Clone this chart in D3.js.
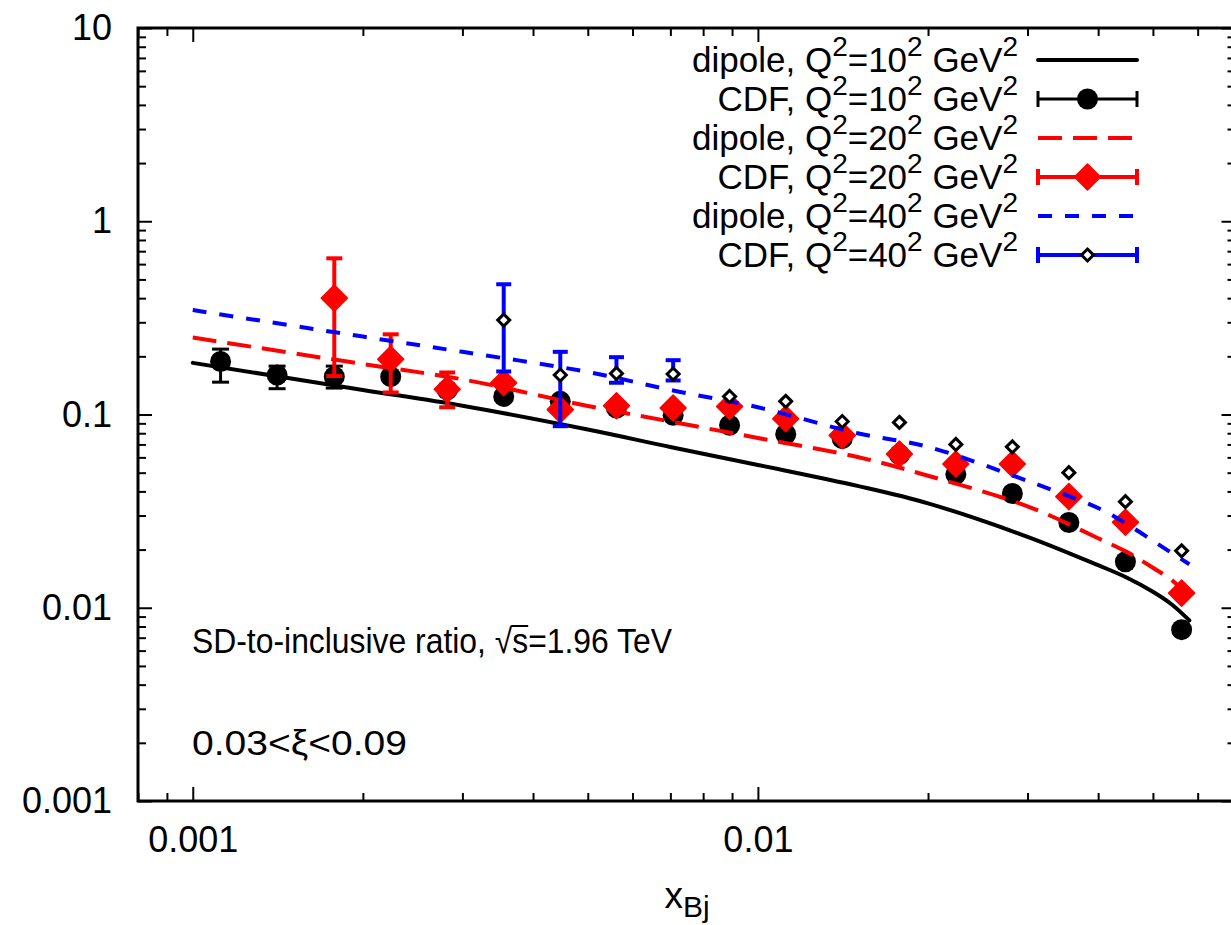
<!DOCTYPE html>
<html>
<head>
<meta charset="utf-8">
<script src="https://cdn.jsdelivr.net/npm/d3@7"></script>
<style>
  body { margin: 0; background: #fff; }
  svg text { font-family: "Liberation Sans", Arial, Helvetica, sans-serif; fill: #000; }
</style>
</head>
<body>
<div class="chart"></div>
<script>
// bin centres (x_Bj) of the CDF points
var xBins = [0.00112, 0.00141, 0.00178, 0.00224, 0.00282, 0.00355, 0.00447, 0.00562, 0.00708,
             0.00891, 0.0112, 0.0141, 0.0178, 0.0224, 0.0282, 0.0355, 0.0447, 0.0562];

var cdf10   = [0.188, 0.160, 0.157, 0.157, 0.134, 0.124, 0.117, 0.108, 0.099,
               0.088, 0.079, 0.075, 0.062, 0.049, 0.039, 0.0276, 0.0173, 0.0077];
var cdf10Lo = [0.147, 0.136, 0.137, null, null, null, null, null, null,
               null, null, null, null, null, null, null, null, null];
var cdf10Hi = [0.218, 0.178, 0.178, null, null, null, null, null, null,
               null, null, null, null, null, null, null, null, null];

var cdf20   = [null, null, 0.40, 0.193, 0.135, 0.146, 0.106, 0.111, 0.108,
               0.110, 0.095, 0.078, 0.0625, 0.0554, 0.0554, 0.0376, 0.0277, 0.0119];
var cdf20Lo = [null, null, 0.158, 0.130, 0.109, null, null, null, null,
               null, null, null, null, null, null, null, null, null];
var cdf20Hi = [null, null, 0.643, 0.260, 0.165, null, null, null, null,
               null, null, null, null, null, null, null, null, null];

var cdf40   = [null, null, null, null, null, 0.308, 0.160, 0.163, 0.162,
               0.124, 0.117, 0.092, 0.091, 0.070, 0.068, 0.050, 0.0354, 0.0197];
var cdf40Lo = [null, null, null, null, null, 0.167, 0.087, 0.146, 0.150,
               null, null, null, null, null, null, null, null, null];
var cdf40Hi = [null, null, null, null, null, 0.472, 0.211, 0.198, 0.191,
               null, null, null, null, null, null, null, null, null];

// dipole model curves
var dipoleX  = [0.001, 0.002, 0.003, 0.005, 0.007, 0.01, 0.015, 0.02, 0.03, 0.04, 0.045, 0.05, 0.054, 0.058];
var dipole10 = [0.185, 0.134, 0.111, 0.0836, 0.0679, 0.0548, 0.0427, 0.0347, 0.0233, 0.0166, 0.0143, 0.0121, 0.0104, 0.0086];
var dipole20 = [0.250, 0.1825, 0.152, 0.1107, 0.092, 0.0756, 0.0603, 0.0482, 0.0335, 0.0229, 0.0194, 0.0161, 0.0139, 0.0114];
var dipole40 = [0.347, 0.253, 0.211, 0.166, 0.134, 0.109, 0.080, 0.068, 0.0453, 0.0328, 0.0271, 0.0222, 0.0192, 0.0168];

var legendLabels = ["dipole, Q^2=10^2 GeV^2", "CDF, Q^2=10^2 GeV^2",
                    "dipole, Q^2=20^2 GeV^2", "CDF, Q^2=20^2 GeV^2",
                    "dipole, Q^2=40^2 GeV^2", "CDF, Q^2=40^2 GeV^2"];
var xTickLabels = ["0.001", "0.01"];
var yTickLabels = ["0.001", "0.01", "0.1", "1", "10"];

var width = 1231, height = 925;
var plotLeft = 138, plotRight = 1235.5, plotTop = 28, plotBottom = 801;
var fontSize = 35, tickFontSize = 36;

var x = d3.scaleLog().domain([0.0008, 0.07]).range([plotLeft, plotRight]);
var y = d3.scaleLog().domain([0.001, 10]).range([plotBottom, plotTop]);

var svg = d3.select("div.chart").append("svg")
  .attr("width", width)
  .attr("height", height);

// ---- axes (ticks inward on all four sides) ----
function isMajor(v) { return Math.abs(Math.log10(v) - Math.round(Math.log10(v))) < 1e-6; }
var xAll = x.ticks(), yAll = y.ticks();
var xMajor = xAll.filter(isMajor), xMinor = xAll.filter(function(v) { return !isMajor(v); });
var yMajor = yAll.filter(isMajor), yMinor = yAll.filter(function(v) { return !isMajor(v); });

function styleAxis(g) {
  g.select(".domain").remove();
  g.selectAll(".tick line").attr("stroke", "#000").attr("stroke-width", 2);
  g.selectAll(".tick text").attr("font-size", tickFontSize).attr("font-family", null);
}

svg.append("g").attr("transform", "translate(0," + plotBottom + ")")
  .call(d3.axisBottom(x).tickValues(xMinor).tickSize(-8).tickFormat(""))
  .call(styleAxis);
svg.append("g").attr("transform", "translate(0," + plotBottom + ")")
  .call(d3.axisBottom(x).tickValues(xMajor).tickSize(-14).tickPadding(25)
    .tickFormat(function(d, i) { return xTickLabels[i]; }))
  .call(styleAxis);
svg.append("g").attr("transform", "translate(0," + plotTop + ")")
  .call(d3.axisTop(x).tickValues(xMinor).tickSize(-8).tickFormat(""))
  .call(styleAxis);
svg.append("g").attr("transform", "translate(0," + plotTop + ")")
  .call(d3.axisTop(x).tickValues(xMajor).tickSize(-14).tickFormat(""))
  .call(styleAxis);

svg.append("g").attr("transform", "translate(" + plotLeft + ",0)")
  .call(d3.axisLeft(y).tickValues(yMinor).tickSize(-8).tickFormat(""))
  .call(styleAxis);
svg.append("g").attr("transform", "translate(" + plotLeft + ",0)")
  .call(d3.axisLeft(y).tickValues(yMajor).tickSize(-14).tickPadding(26)
    .tickFormat(function(d, i) { return yTickLabels[i]; }))
  .call(styleAxis);
svg.append("g").attr("transform", "translate(" + plotRight + ",0)")
  .call(d3.axisRight(y).tickValues(yMinor).tickSize(-8).tickFormat(""))
  .call(styleAxis);
svg.append("g").attr("transform", "translate(" + plotRight + ",0)")
  .call(d3.axisRight(y).tickValues(yMajor).tickSize(-14).tickFormat(""))
  .call(styleAxis);

svg.append("rect")
  .attr("x", plotLeft).attr("y", plotTop)
  .attr("width", plotRight - plotLeft).attr("height", plotBottom - plotTop)
  .attr("fill", "none").attr("stroke", "#000").attr("stroke-width", 3);

// x axis title
var xt = svg.append("text").attr("x", 687).attr("y", 908)
  .attr("text-anchor", "middle").attr("font-size", 37);
xt.append("tspan").text("x");
xt.append("tspan").attr("font-size", 30).attr("dy", 9).text("Bj");

// ---- series ----
var series = [
  {kind: "line", xs: dipoleX, ys: dipole10, color: "#000", dash: null},
  {kind: "points", ys: cdf10, lo: cdf10Lo, hi: cdf10Hi, color: "#000", marker: "circle", barWidth: 3, cap: 8.5},
  {kind: "line", xs: dipoleX, ys: dipole20, color: "#ff0000", dash: "24,11"},
  {kind: "points", ys: cdf20, lo: cdf20Lo, hi: cdf20Hi, color: "#ff0000", marker: "diamond", barWidth: 4, cap: 8},
  {kind: "line", xs: dipoleX, ys: dipole40, color: "#0000ff", dash: "14,13"},
  {kind: "points", ys: cdf40, lo: cdf40Lo, hi: cdf40Hi, color: "#0000ff", marker: "open", barWidth: 4, cap: 7.5}
];

var line = d3.line()
  .x(function(d) { return x(d[0]); })
  .y(function(d) { return y(d[1]); })
  .curve(d3.curveCatmullRom.alpha(0.5));

function drawMarker(g, type, cx, cy) {
  if (type === "circle") {
    g.append("circle").attr("cx", cx).attr("cy", cy).attr("r", 10.5).attr("fill", "#000");
  } else if (type === "diamond") {
    var s = 13;
    g.append("path")
      .attr("d", "M" + cx + "," + (cy - s) + "L" + (cx + s) + "," + cy + "L" + cx + "," + (cy + s) + "L" + (cx - s) + "," + cy + "Z")
      .attr("fill", "#ff0000").attr("stroke", "#ff0000").attr("stroke-width", 1.5).attr("stroke-linejoin", "round");
  } else {
    var t = 6;
    g.append("path")
      .attr("d", "M" + cx + "," + (cy - t) + "L" + (cx + t) + "," + cy + "L" + cx + "," + (cy + t) + "L" + (cx - t) + "," + cy + "Z")
      .attr("fill", "#fff").attr("stroke", "#000").attr("stroke-width", 3);
  }
}

var plot = svg.append("g");
series.forEach(function(s) {
  if (s.kind === "line") {
    var pts = s.xs.map(function(v, i) { return [v, s.ys[i]]; });
    plot.append("path").datum(pts)
      .attr("d", line)
      .attr("fill", "none")
      .attr("stroke", s.color)
      .attr("stroke-width", 4)
      .attr("stroke-linecap", s.dash ? "butt" : "round")
      .attr("stroke-dasharray", s.dash);
  } else {
    var g = plot.append("g");
    xBins.forEach(function(xv, i) {
      if (s.ys[i] == null) return;
      var cx = x(xv);
      if (s.lo[i] != null) {
        g.append("line").attr("x1", cx).attr("x2", cx)
          .attr("y1", y(s.lo[i])).attr("y2", y(s.hi[i]))
          .attr("stroke", s.color).attr("stroke-width", s.barWidth);
        [s.lo[i], s.hi[i]].forEach(function(v) {
          g.append("line").attr("x1", cx - s.cap).attr("x2", cx + s.cap)
            .attr("y1", y(v)).attr("y2", y(v))
            .attr("stroke", s.color).attr("stroke-width", s.barWidth);
        });
      }
      drawMarker(g, s.marker, cx, y(s.ys[i]));
    });
  }
});

// ---- legend ----
function addScripted(textSel, str) {
  var parts = str.split("^");
  textSel.append("tspan").text(parts[0]);
  for (var k = 1; k < parts.length; k++) {
    textSel.append("tspan").attr("font-size", fontSize * 0.8).attr("dy", -16).text(parts[k].charAt(0));
    if (parts[k].length > 1)
      textSel.append("tspan").attr("dy", 16).text(parts[k].slice(1));
  }
}

var legX0 = 1038, legX1 = 1137, legTextX = 1018, legY0 = 60, legStep = 39;
series.forEach(function(s, i) {
  var ly = legY0 + i * legStep;
  var t = svg.append("text").attr("x", legTextX).attr("y", ly + 12)
    .attr("text-anchor", "end").attr("font-size", fontSize);
  addScripted(t, legendLabels[i]);
  var g = svg.append("g");
  if (s.kind === "line") {
    g.append("line").attr("x1", legX0).attr("x2", legX1).attr("y1", ly).attr("y2", ly)
      .attr("stroke", s.color).attr("stroke-width", 4)
      .attr("stroke-linecap", s.dash ? "butt" : "round")
      .attr("stroke-dasharray", s.dash);
  } else {
    g.append("line").attr("x1", legX0).attr("x2", legX1).attr("y1", ly).attr("y2", ly)
      .attr("stroke", s.color).attr("stroke-width", s.barWidth);
    [legX0, legX1].forEach(function(ex) {
      g.append("line").attr("x1", ex).attr("x2", ex).attr("y1", ly - 8).attr("y2", ly + 8)
        .attr("stroke", s.color).attr("stroke-width", s.barWidth);
    });
    drawMarker(g, s.marker, (legX0 + legX1) / 2, ly);
  }
});

// ---- annotations ----
var annot = "SD-to-inclusive ratio, \u221As=1.96 TeV";
var a1 = svg.append("text").attr("x", 192).attr("y", 653).attr("font-size", fontSize)
  .attr("textLength", 480).attr("lengthAdjust", "spacingAndGlyphs")
  .text(annot);
// bar of the square root over "s"
var sIdx = annot.indexOf("\u221A") + 1;
var ext = a1.node().getExtentOfChar(sIdx);
svg.append("line")
  .attr("x1", ext.x - 1).attr("x2", ext.x + ext.width)
  .attr("y1", 626).attr("y2", 626)
  .attr("stroke", "#000").attr("stroke-width", 2);

svg.append("text").attr("x", 192).attr("y", 755).attr("font-size", fontSize)
  .attr("textLength", 215).attr("lengthAdjust", "spacingAndGlyphs")
  .text("0.03<\u03BE<0.09");
</script>
</body>
</html>
